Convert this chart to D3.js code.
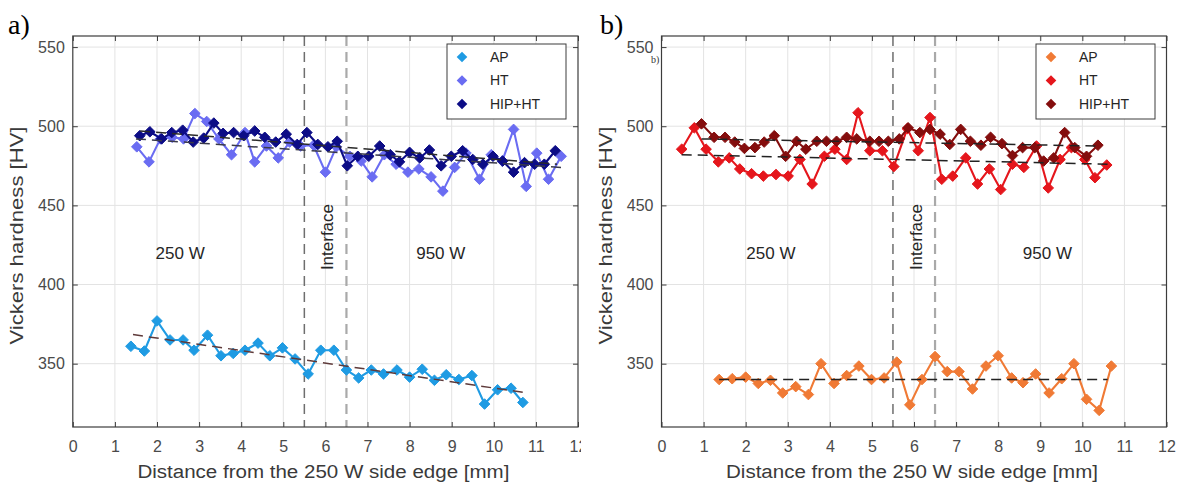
<!DOCTYPE html>
<html>
<head>
<meta charset="utf-8">
<script src="https://cdn.jsdelivr.net/npm/d3@7"></script>
<style>
  body { margin: 0; background: #fff; }
  svg { display: block; }
</style>
</head>
<body>
<svg id="chart" width="1180" height="489"></svg>
<script>
// ---- Tick values and labels ----
const xTickValues = [0, 1, 2, 3, 4, 5, 6, 7, 8, 9, 10, 11, 12];
const yTickValues = [350, 400, 450, 500, 550];
const seriesNames = ["AP", "HT", "HIP+HT"];
const interfaceLines = [5.5, 6.5];

// ---- Panel a) measurements ----
const aApX = [1.38, 1.70, 2.00, 2.31, 2.62, 2.88, 3.20, 3.52, 3.81, 4.09, 4.40, 4.68, 4.98, 5.28, 5.59, 5.89, 6.20, 6.50, 6.79, 7.09, 7.38, 7.70, 8.00, 8.30, 8.59, 8.87, 9.17, 9.48, 9.78, 10.09, 10.41, 10.69];
const aApY = [361, 358, 377, 365, 365, 358.5, 368, 355, 356.5, 358.5, 363, 355, 360, 353, 343.5, 358.5, 358.5, 346, 341, 346, 343.5, 346, 341.5, 346.5, 339.5, 343, 340, 342.5, 324.5, 333.5, 334.5, 325.5];

const aHtX = [1.52, 1.81, 2.08, 2.36, 2.63, 2.90, 3.18, 3.47, 3.77, 4.09, 4.32, 4.60, 4.88, 5.15, 5.41, 5.72, 6.00, 6.26, 6.58, 6.85, 7.11, 7.40, 7.68, 7.96, 8.22, 8.51, 8.79, 9.07, 9.34, 9.66, 9.94, 10.20, 10.47, 10.77, 11.02, 11.30, 11.60];
const aHtY = [487, 477.5, 492, 493, 492, 508, 503, 492, 482, 496, 477.5, 487.5, 480, 490, 487.5, 488, 471, 487, 481, 478, 468, 482, 476, 471, 473, 468, 459, 474, 483, 466.5, 482, 478, 498, 462, 483, 466.5, 481];

const aHipX = [1.59, 1.83, 2.11, 2.35, 2.61, 2.86, 3.11, 3.35, 3.57, 3.82, 4.06, 4.32, 4.56, 4.82, 5.07, 5.33, 5.56, 5.82, 6.06, 6.28, 6.52, 6.77, 7.03, 7.29, 7.54, 7.76, 8.00, 8.24, 8.47, 8.75, 8.99, 9.26, 9.50, 9.74, 9.98, 10.21, 10.47, 10.73, 10.97, 11.20, 11.46];
const aHipY = [494, 496.5, 492, 496, 497.5, 490, 492.5, 502, 495.5, 496, 494, 497, 493, 490, 495, 488.5, 496, 488.5, 487, 490.5, 475, 481, 481, 487.5, 482, 477.5, 483.5, 480, 485, 475, 481, 484.5, 479, 476, 481, 478, 471, 477, 476, 476, 484.5];

// Linear fits (end points) for panel a)
const aApFitX = [1.43, 10.69],  aApFitY = [368.4, 331.9];
const aHtFitX = [1.50, 11.60],  aHtFitY = [492, 474];
const aHipFitX = [1.60, 11.50], aHipFitY = [497, 476];

// ---- Panel b) measurements ----
const bApX = [1.37, 1.68, 2.00, 2.30, 2.59, 2.88, 3.19, 3.49, 3.79, 4.10, 4.40, 4.69, 4.99, 5.29, 5.59, 5.90, 6.19, 6.50, 6.79, 7.07, 7.39, 7.71, 8.00, 8.32, 8.59, 8.89, 9.21, 9.51, 9.80, 10.10, 10.40, 10.69];
const bApY = [340, 340.5, 341.5, 337.5, 339.5, 331.5, 335.5, 330.5, 350, 337.5, 342.5, 348.5, 340, 341, 351, 324, 340, 354.5, 345, 345, 334, 348.5, 355, 341, 338, 343.5, 331.5, 340.5, 350, 327.5, 320.5, 348.5];

const bHtX = [0.48, 0.78, 1.06, 1.35, 1.61, 1.86, 2.14, 2.42, 2.72, 3.01, 3.29, 3.58, 3.87, 4.12, 4.40, 4.67, 4.95, 5.25, 5.52, 5.84, 6.10, 6.38, 6.66, 6.92, 7.23, 7.51, 7.79, 8.06, 8.34, 8.61, 8.91, 9.19, 9.47, 9.74, 10.06, 10.30, 10.58];
const bHtY = [485.5, 499, 485.5, 477.5, 480, 473, 470, 468.5, 469.5, 468.5, 479, 463.5, 481, 485.5, 479, 508.5, 484.5, 484.5, 474.5, 498.5, 484.5, 505.5, 466.5, 468.5, 480, 463.5, 473, 460, 476, 474, 487.5, 461, 479, 486.5, 479, 467.5, 475.5];

const bHipX = [0.95, 1.25, 1.51, 1.74, 1.97, 2.22, 2.44, 2.68, 2.95, 3.21, 3.43, 3.69, 3.92, 4.16, 4.40, 4.64, 4.95, 5.17, 5.39, 5.65, 5.86, 6.14, 6.38, 6.62, 6.85, 7.11, 7.34, 7.59, 7.82, 8.09, 8.34, 8.58, 8.87, 9.08, 9.32, 9.58, 9.82, 10.10, 10.37];
const bHipY = [501.5, 493, 493, 490, 486, 486.5, 490, 494, 481, 490.5, 485.5, 490.5, 490.5, 490.5, 493, 492, 490.5, 490.5, 490.5, 492, 499, 496, 498, 495, 488.5, 498, 490.5, 488, 493, 489, 481.5, 486.5, 486.5, 478, 480, 496, 486.5, 481, 488];

// Linear fits (end points) for panel b)
const bApFitX = [1.37, 10.60],  bApFitY = [340, 340];
const bHtFitX = [0.48, 10.60],  bHtFitY = [482, 476];
const bHipFitX = [0.95, 10.40], bHipFitY = [492, 487.5];

// ---- Layout ----
const svg = d3.select("#chart");
const FONT = "'Liberation Sans', Arial, Helvetica, sans-serif";
const zip = (xs, ys) => xs.map((x, i) => [x, ys[i]]);

const panels = [
  {
    id: "a", tag: "a)", tagX: 8,
    left: 72.8, right: 578, top: 36, bottom: 427, clipRight: 581,
    colors: ["#1f9be3", "#6a6cf2", "#0c0c86"],
    fitColors: ["#5e3a3a", "#3a3a4a", "#2a2a2a"],
    series: [zip(aApX, aApY), zip(aHtX, aHtY), zip(aHipX, aHipY)],
    fits: [zip(aApFitX, aApFitY), zip(aHtFitX, aHtFitY), zip(aHipFitX, aHipFitY)],
    legendX: 447,
    label250: 2.55, label950: 8.74, labelIf: 6.04
  },
  {
    id: "b", tag: "b)", tagX: 600,
    left: 661.5, right: 1166.5, top: 36, bottom: 427, clipRight: 1180,
    colors: ["#f07a35", "#e5161c", "#840d0d"],
    fitColors: ["#222", "#222", "#222"],
    series: [zip(bApX, bApY), zip(bHtX, bHtY), zip(bHipX, bHipY)],
    fits: [zip(bApFitX, bApFitY), zip(bHtFitX, bHtFitY), zip(bHipFitX, bHipFitY)],
    legendX: 1036,
    label250: 2.6, label950: 9.17, labelIf: 6.05
  }
];

const diamond = r => `M0,${-r}L${r},0L0,${r}L${-r},0Z`;

panels.forEach(p => {
  const x = d3.scaleLinear().domain([0, 12]).range([p.left, p.right]);
  const y = d3.scaleLinear().domain([310, 557]).range([p.bottom, p.top]);

  const clipId = "clip-" + p.id;
  svg.append("clipPath").attr("id", clipId)
    .append("rect").attr("x", 0).attr("y", 0)
    .attr("width", p.clipRight).attr("height", 489);

  const g = svg.append("g").attr("clip-path", `url(#${clipId})`);
  const plotW = p.right - p.left, plotH = p.bottom - p.top;

  // grid
  g.append("g").selectAll("line.gx").data(xTickValues.slice(1, -1)).join("line")
    .attr("x1", d => x(d)).attr("x2", d => x(d))
    .attr("y1", p.top).attr("y2", p.bottom)
    .attr("stroke", "#e3e3e3").attr("stroke-width", 1);
  g.append("g").selectAll("line.gy").data(yTickValues).join("line")
    .attr("x1", p.left).attr("x2", p.right)
    .attr("y1", d => y(d)).attr("y2", d => y(d))
    .attr("stroke", "#e3e3e3").attr("stroke-width", 1);

  // interface lines
  g.append("g").selectAll("line").data(interfaceLines).join("line")
    .attr("x1", d => x(d)).attr("x2", d => x(d))
    .attr("y1", p.top).attr("y2", p.bottom)
    .attr("stroke", (d, i) => i === 0 ? "#6e6e6e" : "#a9a9a9")
    .attr("stroke-width", (d, i) => i === 0 ? 1.5 : 2.2)
    .attr("stroke-dasharray", "10,6");

  // annotation text
  const midY = y(420);
  g.append("text").attr("x", x(p.label250)).attr("y", midY).attr("dy", "0.35em")
    .attr("text-anchor", "middle").attr("font-family", FONT).attr("font-size", 17)
    .attr("fill", "#262626").text("250 W");
  g.append("text").attr("x", x(p.label950)).attr("y", midY).attr("dy", "0.35em")
    .attr("text-anchor", "middle").attr("font-family", FONT).attr("font-size", 17)
    .attr("fill", "#262626").text("950 W");
  g.append("text")
    .attr("transform", `translate(${x(p.labelIf)},${y(430)}) rotate(-90)`)
    .attr("dy", "0.35em").attr("text-anchor", "middle")
    .attr("font-family", FONT).attr("font-size", 17).attr("fill", "#262626")
    .text("Interface");

  // series lines, markers
  const line = d3.line().x(d => x(d[0])).y(d => y(d[1]));
  p.series.forEach((s, i) => {
    g.append("path").datum(s).attr("d", line)
      .attr("fill", "none").attr("stroke", p.colors[i]).attr("stroke-width", 2.1)
      .attr("stroke-linejoin", "round");
    g.append("g").selectAll("path").data(s).join("path")
      .attr("transform", d => `translate(${x(d[0])},${y(d[1])})`)
      .attr("d", diamond(5.3)).attr("fill", p.colors[i]).attr("stroke", p.colors[i])
      .attr("stroke-width", 1);
  });

  // linear fits
  p.fits.forEach((f, i) => {
    g.append("path").datum(f).attr("d", line)
      .attr("fill", "none").attr("stroke", p.fitColors[i]).attr("stroke-width", 1.5)
      .attr("stroke-dasharray", "10,6");
  });

  // frame
  g.append("rect").attr("x", p.left).attr("y", p.top)
    .attr("width", plotW).attr("height", plotH)
    .attr("fill", "none").attr("stroke", "#3c3c3c").attr("stroke-width", 1.2);

  // axes with inward ticks
  const tickStyle = sel => {
    sel.select(".domain").remove();
    sel.selectAll(".tick line").attr("stroke", "#3c3c3c");
    sel.selectAll(".tick text").attr("font-family", FONT).attr("font-size", 16).attr("fill", "#4a4a4a");
  };
  g.append("g").attr("transform", `translate(0,${p.bottom})`)
    .call(d3.axisBottom(x).tickValues(xTickValues).tickFormat(d3.format("d")).tickSizeInner(-5).tickPadding(14))
    .call(tickStyle);
  g.append("g").attr("transform", `translate(0,${p.top})`)
    .call(d3.axisTop(x).tickValues(xTickValues).tickFormat("").tickSizeInner(-5))
    .call(tickStyle);
  g.append("g").attr("transform", `translate(${p.left},0)`)
    .call(d3.axisLeft(y).tickValues(yTickValues).tickFormat(d3.format("d")).tickSizeInner(-5).tickPadding(8))
    .call(tickStyle);
  g.append("g").attr("transform", `translate(${p.right},0)`)
    .call(d3.axisRight(y).tickValues(yTickValues).tickFormat("").tickSizeInner(-5))
    .call(tickStyle);

  // axis titles
  g.append("text").attr("x", (p.left + p.right) / 2 - 2).attr("y", 478)
    .attr("text-anchor", "middle").attr("font-family", FONT).attr("font-size", 18)
    .attr("fill", "#3a3a3a").attr("textLength", 372).attr("lengthAdjust", "spacingAndGlyphs")
    .text("Distance from the 250 W side edge [mm]");
  g.append("text")
    .attr("transform", `translate(${p.left - 50},${(p.top + p.bottom) / 2 + 4}) rotate(-90)`)
    .attr("text-anchor", "middle").attr("font-family", FONT).attr("font-size", 18)
    .attr("fill", "#3a3a3a").attr("textLength", 218).attr("lengthAdjust", "spacingAndGlyphs")
    .text("Vickers hardness [HV]");

  // legend
  const lg = g.append("g").attr("transform", `translate(${p.legendX},44)`);
  lg.append("rect").attr("width", 119).attr("height", 75)
    .attr("fill", "#fff").attr("stroke", "#3c3c3c").attr("stroke-width", 1);
  seriesNames.forEach((name, i) => {
    const ly = 13 + i * 23.5;
    lg.append("path").attr("transform", `translate(15,${ly})`)
      .attr("d", diamond(5.3)).attr("fill", p.colors[i]);
    lg.append("text").attr("x", 43).attr("y", ly).attr("dy", "0.35em")
      .attr("font-family", FONT).attr("font-size", 14).attr("fill", "#262626").text(name);
  });

  // panel tag
  svg.append("text").attr("x", p.tagX).attr("y", 34)
    .attr("font-family", "'Liberation Serif', 'Times New Roman', serif")
    .attr("font-size", 28).attr("fill", "#000").text(p.tag);
});

// small stray caption inside panel b
svg.append("text").attr("x", 651).attr("y", 63)
  .attr("font-family", "'Liberation Serif', serif").attr("font-size", 10)
  .attr("fill", "#333").text("b)");
</script>
</body>
</html>
